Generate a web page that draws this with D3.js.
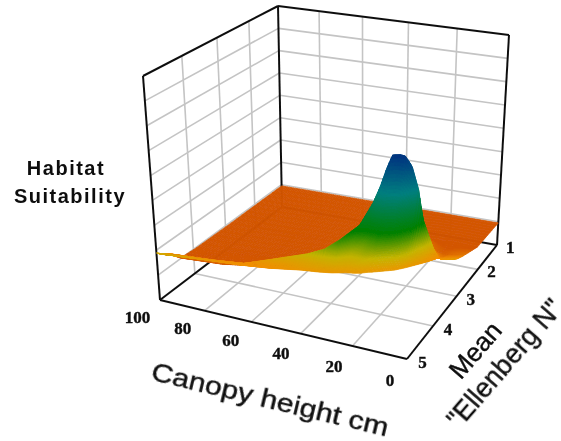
<!DOCTYPE html>
<html><head><meta charset="utf-8">
<script src="https://cdn.jsdelivr.net/npm/d3@7"></script>
<style>html,body{margin:0;padding:0;background:#fff}svg{display:block}</style></head>
<body><svg id="c" width="561" height="441"></svg>
<script>
// ---- data ----
const canopyTicks = [100, 80, 60, 40, 20, 0];
const ellenbergTicks = [1, 2, 3, 4, 5];
const suitabilityLevels = [0,1,2,3,4,5,6,7,8,9];
const canopy   = [0,3,5,6.7,8.5,10,12.6,14,16.5,18.8,20.5,23.2,24.5,26.5,28.6,31.5,36,41,47,59,70,82,100];
const crestE   = [3.15,3.15,3.12,3.10,3.08,3.07,3.10,3.15,3.15,3.18,3.20,3.22,3.30,3.37,3.44,3.66,3.97,4.08,4.16,4.33,4.45,4.55,4.65];
const rimE     = [3.15,3.15,3.12,3.10,3.30,3.45,3.60,3.68,3.80,3.87,3.92,4.00,4.03,4.10,4.14,4.18,4.27,4.33,4.38,4.46,4.55,4.68,5];
const rowPosition = [0,.5,.8,.93,1,1.25,1.5,1.75,2];
const rowE1    = canopy.map(()=>.105);
const rowBack5 = [.112,.11,.11,.11,.108,.108,.108,.108,.11,.11,.11,.11,.11,.108,.108,.106,.105,.105,.105,.105,.105,.105,.105];
const rowBack8 = [.15,.145,.14,.135,.13,.13,.14,.15,.17,.19,.2,.19,.17,.15,.14,.13,.12,.115,.11,.108,.106,.105,.108];
const rowBack93= [.17,.165,.16,.15,.16,.17,.22,.3,.38,.43,.45,.43,.38,.32,.27,.22,.19,.17,.16,.14,.125,.115,.115];
const rowCrest = [.186,.178,.172,.17,.20,.24,.33,.47,.57,.615,.62,.615,.565,.48,.41,.33,.29,.25,.225,.195,.165,.165,.165];
const rowFront1= [.186,.178,.172,.17,.19,.22,.28,.36,.42,.46,.465,.46,.41,.37,.33,.28,.25,.225,.205,.185,.167,.168,.175];
const rowFront2= [.186,.178,.172,.17,.185,.2,.235,.28,.315,.335,.34,.335,.31,.285,.265,.235,.22,.205,.195,.178,.168,.172,.185];
const rowFront3= [.186,.178,.172,.17,.18,.19,.21,.235,.255,.265,.27,.265,.25,.24,.225,.21,.2,.195,.19,.175,.169,.176,.195];
const rowRim   = [.186,.178,.172,.17,.175,.18,.18,.18,.18,.18,.18,.18,.18,.18,.18,.18,.18,.18,.18,.17,.17,.18,.21];
const colorStops = [.12,.17,.225,.31,.46,.62];
const colorRange = ["#d25400","#f09000","#c4b400","#008000","#007f80","#003080"];

// ---- scales ----
const uScale = d3.scaleLinear().domain([100,0]).range([0,1]);
const vScale = d3.scaleLinear().domain([1,5]).range([0,1]);
const zScale = d3.scaleLinear().domain([0,9]).range([0,1]);
const color = d3.scaleLinear().domain(colorStops).range(colorRange).clamp(true);
const crestAt = d3.scaleLinear().domain(canopy).range(crestE);
const rimAt = d3.scaleLinear().domain(canopy).range(rimE);
const rows = [rowE1,rowBack5,rowBack8,rowBack93,rowCrest,rowFront1,rowFront2,rowFront3,rowRim]
  .map(r=>d3.scaleLinear().domain(canopy).range(r));

function quadMap(p00,p10,p11,p01){
  const [x0,y0]=p00,[x1,y1]=p10,[x2,y2]=p11,[x3,y3]=p01;
  const dx1=x1-x2,dx2=x3-x2,dx3=x0-x1+x2-x3,dy1=y1-y2,dy2=y3-y2,dy3=y0-y1+y2-y3;
  const det=dx1*dy2-dx2*dy1;
  const g=(dx3*dy2-dx2*dy3)/det,h=(dx1*dy3-dx3*dy1)/det;
  const a=x1-x0+g*x1,b=x3-x0+h*x3,d=y1-y0+g*y1,e=y3-y0+h*y3;
  return (u,v)=>{const w=g*u+h*v+1;return [(a*u+b*v+x0)/w,(d*u+e*v+y0)/w];};
}
const floorMap = quadMap([282,207],[497,245],[407,359],[160,300]);
const topMap   = quadMap([278,6],[509,35],[406,126],[143,76]);
function project(c,e,z){
  const u=uScale(c),v=vScale(e);
  const f=floorMap(u,v),t=topMap(u,v);
  return [f[0]+(t[0]-f[0])*z,f[1]+(t[1]-f[1])*z];
}

const svg = d3.select("#c");
svg.append("defs").append("filter").attr("id","soft").attr("x",0).attr("y",0).attr("width",1).attr("height",1)
  .append("feGaussianBlur").attr("stdDeviation",0.5);
const root = svg.append("g").attr("filter","url(#soft)");
root.append("rect").attr("width",561).attr("height",441).attr("fill","#fff");
const line = d3.line();
const grid = root.append("g").attr("fill","none").attr("stroke","#c4c4c4").attr("stroke-width",1.6);
const seg = (g,a,b)=>g.append("path").attr("d",line([a,b]));

suitabilityLevels.slice(1,-1).forEach(l=>{
  const z=zScale(l);
  seg(grid,project(100,5,z),project(100,1,z));
  seg(grid,project(100,1,z),project(0,1,z));
});
canopyTicks.slice(1,-1).forEach(c=>{
  seg(grid,project(c,1,0),project(c,1,1));
  seg(grid,project(c,1,0),project(c,5,0));
});
ellenbergTicks.slice(1,-1).forEach(e=>{
  seg(grid,project(100,e,0),project(100,e,1));
  seg(grid,project(100,e,0),project(0,e,0));
});

const box = root.append("g").attr("fill","none").attr("stroke","#111").attr("stroke-width",2);
seg(box,project(100,5,0),project(100,5,1));
seg(box,project(100,1,0),project(100,1,1));
seg(box,project(0,1,0),project(0,1,1));
seg(box,project(100,5,1),project(100,1,1));
seg(box,project(100,1,1),project(0,1,1));
seg(box,project(100,5,0),project(100,1,0));
seg(box,project(100,1,0),project(0,1,0));
seg(box,project(100,5,0),project(0,5,0));
seg(box,project(0,5,0),project(0,1,0));

// surface, drawn back to front along its own rows
const cSamples = d3.range(100,40,-1).concat(d3.range(40,-0.01,-0.4));
const pSamples = d3.range(0,.8,.05).concat(d3.range(.8,2.001,.025));
const columns = cSamples.map(c=>{
  const profile = d3.scaleLinear().domain(rowPosition).range(rows.map(r=>r(c)));
  const cr=crestAt(c), ri=rimAt(c);
  return pSamples.map(p=>{
    const e = p<=1 ? 1+(cr-1)*p : cr+(ri-cr)*(p-1);
    const z = profile(p);
    return {p:project(c,e,z),z};
  });
});
const cells=[];
for(let i=0;i<columns.length-1;i++)for(let j=0;j<pSamples.length-1;j++){
  const a=columns[i][j],b=columns[i+1][j],d=columns[i+1][j+1],e=columns[i][j+1];
  cells.push({pts:[a.p,b.p,d.p,e.p],z:(a.z+b.z+d.z+e.z)/4});
}
root.append("g").selectAll("path").data(cells).join("path")
  .attr("d",d=>line(d.pts)+"Z")
  .attr("fill",d=>color(d.z)).attr("stroke",d=>color(d.z)).attr("stroke-width",0.7);

// tick labels
const tl = root.append("g").attr("font-family","'Liberation Serif',serif").attr("font-weight","bold").attr("font-size",17)
  .attr("text-anchor","middle").attr("dominant-baseline","central").attr("fill","#111").attr("stroke","#111").attr("stroke-width",0.4);
canopyTicks.forEach(c=>{const p=project(c,5.6,0);tl.append("text").attr("x",p[0]).attr("y",p[1]).text(c);});
ellenbergTicks.forEach(e=>{const p=project(-5.5,e,0);tl.append("text").attr("x",p[0]).attr("y",p[1]).text(e);});

// titles
const t = root.append("g").attr("font-family","'Liberation Sans',Arial,sans-serif").attr("fill","#111");
t.append("text").attr("x",66).attr("y",175).attr("text-anchor","middle").attr("font-weight","bold")
 .attr("font-size",20).attr("letter-spacing",1.5).text("Habitat");
t.append("text").attr("x",70).attr("y",203).attr("text-anchor","middle").attr("font-weight","bold")
 .attr("font-size",20).attr("letter-spacing",1.5).text("Suitability");
t.append("text").attr("transform","translate(268,408) rotate(13.5)").attr("text-anchor","middle")
 .attr("font-size",26).attr("textLength",243).attr("lengthAdjust","spacingAndGlyphs")
 .attr("stroke","#111").attr("stroke-width",0.4).text("Canopy height cm");
t.append("text").attr("transform","translate(482,356) rotate(-49)").attr("text-anchor","middle")
 .attr("font-size",26).attr("stroke","#111").attr("stroke-width",0.4).text("Mean");
t.append("text").attr("transform","translate(459,430) rotate(-49)").attr("text-anchor","start")
 .attr("font-size",27).attr("stroke","#111").attr("stroke-width",0.4).text("\"Ellenberg N\"");
</script></body></html>
